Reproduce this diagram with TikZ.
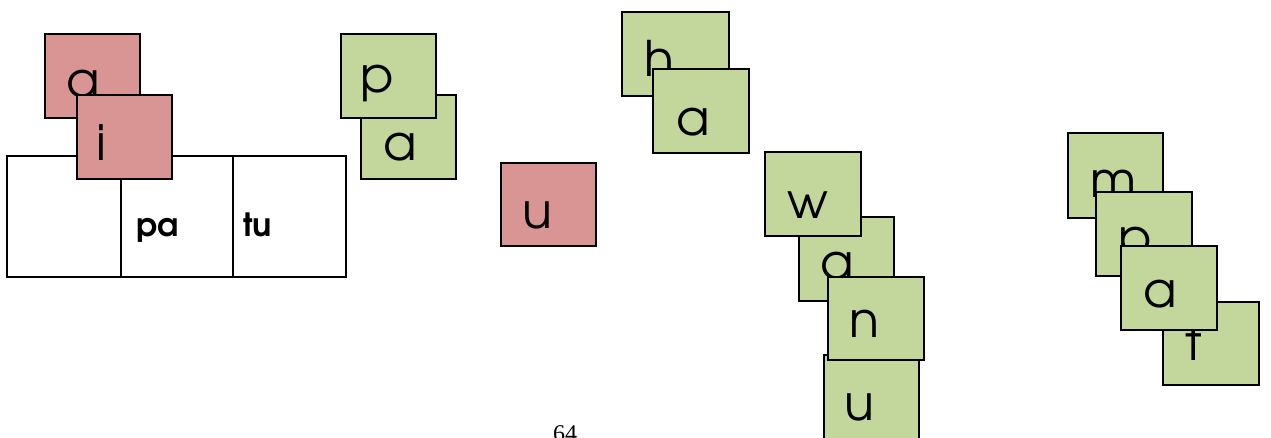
\documentclass[tikz,border=0pt]{standalone}
\usepackage{fontspec}
\newfontfamily\tilefont{TeX Gyre Adventor}
\newfontfamily\pagefont{Liberation Serif}
\definecolor{pinkc}{HTML}{D99594}
\definecolor{greenc}{HTML}{C3D69B}
\tikzset{
  tilebox/.style={draw=black, line width=1.6pt, inner sep=0pt, outer sep=0pt},
  letter/.style={inner sep=0pt, outer sep=0pt, anchor=base west, font=\tilefont\fontsize{49}{49}\selectfont},
  cell/.style={draw=black, line width=1.6pt, inner sep=0pt, outer sep=0pt},
  celltext/.style={inner sep=0pt, anchor=base west, font=\tilefont\bfseries\fontsize{32}{32}\selectfont},
}
% \mytile{name}{x1}{y1}{x2}{y2}{colour}{letter}{lx}{ly}
\newcommand{\mytile}[9]{%
  \node[tilebox, fill=#6, minimum width={(#4-#2)*1pt}, minimum height={(#5-#3)*1pt}] (#1) at ({(#2+#4)/2},{(#3+#5)/2}) {};
  \node[letter] (#1-l) at (#8,#9) {#7};
}
\begin{document}
\begin{tikzpicture}[x=1pt,y=-1pt]
\useasboundingbox (0,0) rectangle (1271,437);
% table
\node[cell, minimum width=114pt, minimum height=121pt] (c1) at (64,216.5) {};
\node[cell, minimum width=112pt, minimum height=121pt] (c2) at (177,216.5) {};
\node[cell, minimum width=113pt, minimum height=121pt] (c3) at (289.5,216.5) {};
\node[celltext] (pa) at (136,236) {pa};
\node[celltext] (tu) at (243,236) {tu};
% pink a, i
\mytile{ta}{45}{34}{140}{118}{pinkc}{a}{66}{97}
\mytile{ti}{77}{95}{172}{179}{pinkc}{i}{96}{160}
% green a, p
\mytile{ga}{361}{95}{456}{179}{greenc}{a}{383}{160}
\mytile{gp}{341}{34}{436}{118}{greenc}{p}{360}{92}
% pink u
\mytile{pu}{501}{163}{596}{246}{pinkc}{u}{522}{228}
% h a
\mytile{gh}{622}{12}{729}{96}{greenc}{h}{644}{76}
\mytile{ga2}{653}{69}{749}{153}{greenc}{a}{676}{135}
% w a n u
\mytile{ga3}{799}{217}{894}{301}{greenc}{a}{820}{279}
\mytile{gw}{765}{152}{861}{236}{greenc}{w}{787}{218}
\mytile{gu}{824}{355}{919}{440}{greenc}{u}{844}{420}
\mytile{gn}{828}{277}{924}{360}{greenc}{n}{849}{337}
% m p a t
\mytile{gm}{1068}{133}{1163}{218}{greenc}{m}{1090}{197}
\mytile{gp2}{1096}{192}{1192}{276}{greenc}{p}{1118}{254}
\mytile{gt}{1163}{302}{1259}{385}{greenc}{t}{1185}{360}
\mytile{ga4}{1121}{246}{1217}{330}{greenc}{a}{1143}{307}
% page number
\node[inner sep=0pt, anchor=base west, font=\pagefont\fontsize{24}{24}\selectfont] (pg) at (553,441) {64};
\end{tikzpicture}
\end{document}
